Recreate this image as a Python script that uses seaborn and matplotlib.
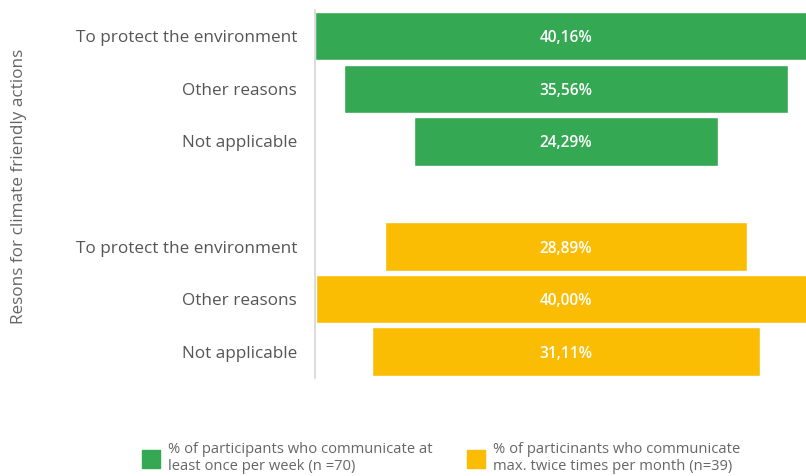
import matplotlib
matplotlib.use("Agg")
import matplotlib.pyplot as plt
import seaborn as sns
import pandas as pd

# Reasons, shares (%) and groups
reasons = ["To protect the environment", "Other reasons", "Not applicable"]
weekly_share = [40.16, 35.56, 24.29]
monthly_share = [28.89, 40.00, 31.11]
groups = [
    "% of participants who communicate at\nleast once per week (n =70)",
    "% of particinants who communicate\nmax. twice times per month (n=39)",
]
colors = ["#34A853", "#FBBC04"]

rows = [f"w{i}" for i in range(3)] + ["gap"] + [f"m{i}" for i in range(3)]
df = pd.DataFrame({
    "row": [f"w{i}" for i in range(3)] + [f"m{i}" for i in range(3)],
    "share": weekly_share + monthly_share,
    "group": [groups[0]] * 3 + [groups[1]] * 3,
})

sns.set_theme(style="white")
plt.rcParams["font.family"] = ["Open Sans", "DejaVu Sans"]

fig = plt.figure(figsize=(8.06, 4.76), dpi=100)
ax = fig.add_axes([0.3908, 0.206, 0.6092, 0.773])

sns.barplot(data=df, x="share", y="row", hue="group", order=rows,
            hue_order=groups, palette=colors, dodge=False, width=0.92,
            saturation=1, orient="h", ax=ax, legend=False)

# Center each bar on zero to form a funnel
for p in ax.patches:
    w = p.get_width()
    if w > 0:
        p.set_x(-w / 2)
        ax.text(0, p.get_y() + p.get_height() / 2,
                f"{w:.2f}%".replace(".", ","), ha="center",
                va="center_baseline", color="white", fontsize=11.2,
                fontweight="semibold")

ax.set_xlim(-20.08, 19.2)
ax.set_ylim(6.5, -0.5)
ax.set_xticks([])
ax.set_xlabel("")
ax.set_ylabel("")
ax.set_yticks(range(len(rows)))
ax.set_yticklabels(reasons + [""] + reasons, color="#555555", fontsize=12.3)
ax.tick_params(axis="y", length=0, pad=13)
for s in ["top", "right", "bottom"]:
    ax.spines[s].set_visible(False)
ax.spines["left"].set_color("#d6d6d6")
ax.spines["left"].set_linewidth(1.2)

fig.text(0.024, 0.609, "Resons for climate friendly actions", rotation=90,
         ha="center", va="center", color="#666666", fontsize=12.3)

handles = [plt.Rectangle((0, 0), 1, 1, color=c) for c in colors]
fig.legend(handles, groups, loc="lower left", bbox_to_anchor=(0.16, -0.024),
           ncol=2, frameon=False, fontsize=10.6, labelcolor="#666666",
           handlelength=1.22, handleheight=1.5, handletextpad=0.55,
           columnspacing=2.3, labelspacing=0.2)

fig.savefig("out.png", dpi=100)
